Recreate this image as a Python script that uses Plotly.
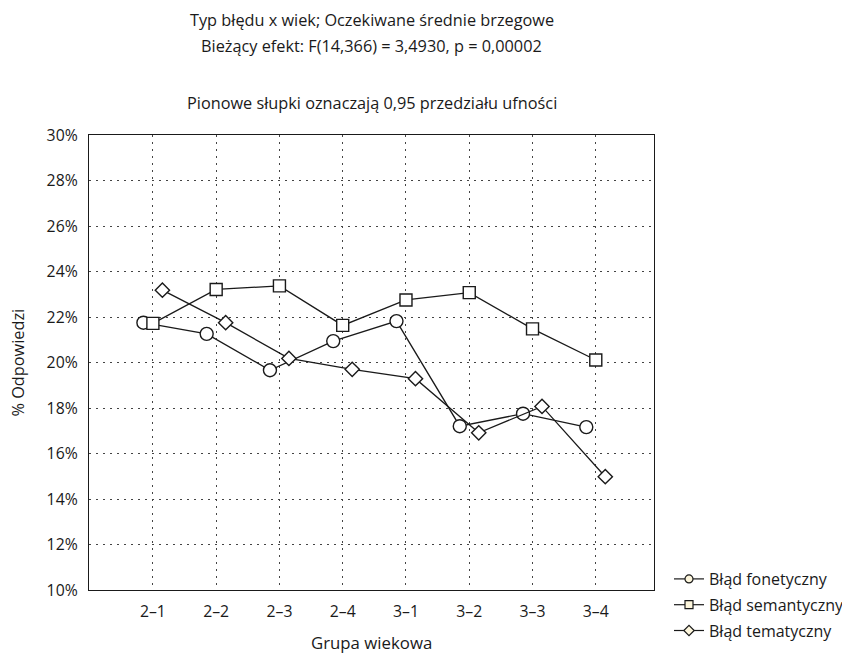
import plotly.graph_objects as go

categories = ["2–1", "2–2", "2–3", "2–4", "3–1", "3–2", "3–3", "3–4"]
fonetyczny = [21.75, 21.26, 19.66, 20.94, 21.82, 17.20, 17.75, 17.16]
semantyczny = [21.72, 23.21, 23.37, 21.63, 22.75, 23.07, 21.48, 20.11]
tematyczny = [23.18, 21.75, 20.18, 19.70, 19.29, 16.91, 18.07, 14.98]
series_names = ["Błąd fonetyczny", "Błąd semantyczny", "Błąd tematyczny"]
y_ticks = [10, 12, 14, 16, 18, 20, 22, 24, 26, 28, 30]

FONT = "Open Sans"
FS = 15.8
FT = 16.3
series = [fonetyczny, semantyczny, tematyczny]
sym_fill = ["circle", "square", "diamond"]
sizes = [13, 12, 11]
offsets = [-0.15, 0.0, 0.15]

# The page body adds an 8px margin; the figure is made larger than the window so
# the legend never pushes the margins; everything is placed in figure pixels.
W, H = 900, 700
L, R, T, B = 81, 646, 127, 582
ph = B - T
pw = R - L


def py(ypx):
    return (B - ypx) / ph


def px(xpx):
    return (xpx - L) / pw


fig = go.Figure()
idx = list(range(len(categories)))
for s, vals in enumerate(series):
    fig.add_trace(go.Scatter(
        x=[i + offsets[s] for i in idx], y=vals, mode="lines+markers",
        line=dict(color="#1a1a1a", width=1.3),
        marker=dict(symbol=sym_fill[s], size=sizes[s], color="white",
                    line=dict(color="#1a1a1a", width=1.4)),
        showlegend=False, cliponaxis=False))
for s in range(3):
    fig.add_trace(go.Scatter(
        x=[None], y=[None], mode="lines+markers", name=series_names[s],
        legendgroup=str(s),
        line=dict(color="#1a1a1a", width=1.2),
        marker=dict(symbol=sym_fill[s], size=8, color="#fdf6dc",
                    line=dict(color="#1a1a1a", width=1.2)),
        showlegend=True))

grid = dict(showgrid=True, gridcolor="#444", griddash="2px,5px", gridwidth=1.2,
            showline=True, linecolor="#1a1a1a", linewidth=1.2, mirror=True,
            ticks="", zeroline=False, automargin=False)
fig.update_layout(
    width=W, height=H,
    margin=dict(l=L, r=W - R, t=T, b=H - B, pad=0),
    paper_bgcolor="white", plot_bgcolor="white",
    font=dict(family=FONT, size=FS, color="#1a1a1a"),
    showlegend=True,
    legend=dict(x=px(661), xanchor="left", y=py(640), yanchor="bottom",
                font=dict(size=16), traceorder="grouped", tracegroupgap=2,
                itemwidth=30, bgcolor="rgba(0,0,0,0)"),
    xaxis=dict(range=[-1.01, 7.92], tickmode="array", tickvals=idx,
               ticktext=categories, ticklabelstandoff=7, **grid),
    yaxis=dict(range=[10, 30], tickmode="array", tickvals=y_ticks,
               ticktext=[f"{v}%" for v in y_ticks], ticklabelstandoff=7,
               **grid),
)
titles = [("Typ błędu x wiek; Oczekiwane średnie brzegowe", 0, "top"),
          ("Bieżący efekt: F(14,366) = 3,4930, p = 0,00002", 38, "middle"),
          ("Pionowe słupki oznaczają 0,95 przedziału ufności", 95, "middle")]
for txt, ypx, anc in titles:
    fig.add_annotation(text=txt, xref="paper", yref="paper",
                       x=0.5, y=py(ypx), xanchor="center", borderpad=0,
                       yanchor=anc, showarrow=False, font=dict(size=FT))
fig.add_annotation(text="Grupa wiekowa", xref="paper", yref="paper",
                   x=0.5, y=py(647), xanchor="center", yanchor="bottom",
                   borderpad=0, showarrow=False, font=dict(size=16.8))
fig.add_annotation(text="% Odpowiedzi", xref="paper", yref="paper",
                   x=px(9), y=0.5, xanchor="center", yanchor="middle",
                   textangle=-90, showarrow=False, font=dict(size=16.3))

fig.write_html("out.html")
